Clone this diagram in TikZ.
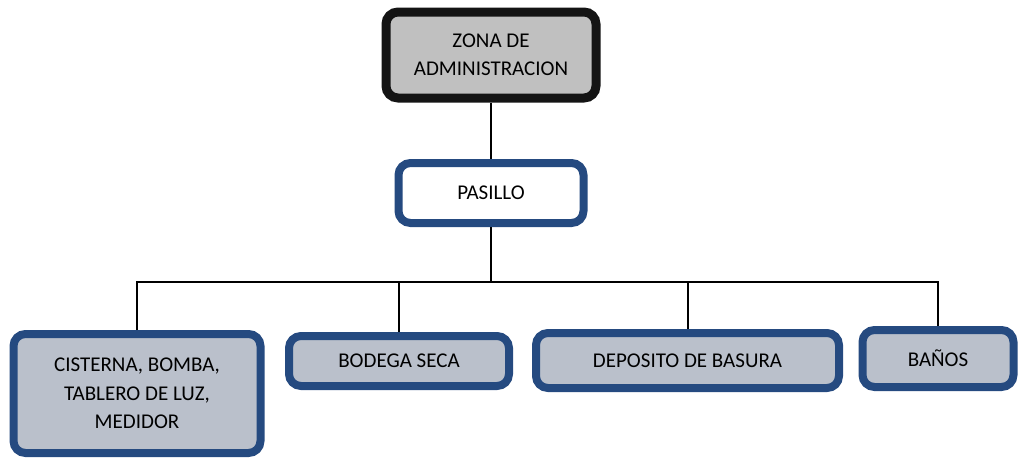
\documentclass[tikz,border=0pt]{standalone}
\usepackage{fontspec}
\setmainfont{Carlito}
\usetikzlibrary{shadows}

\definecolor{boxblue}{RGB}{37,74,128}
\definecolor{boxfill}{RGB}{186,192,203}
\definecolor{headfill}{RGB}{192,192,192}

\tikzset{
    area/.style={draw=boxblue, line width=8pt, rounded corners=12pt, fill=boxfill,
        align=center, inner sep=0pt, font=\fontsize{21}{28.5}\selectfont,
        drop shadow={shadow xshift=3pt, shadow yshift=-3pt, opacity=0.25}},
    conn/.style={line width=2pt, black}
}

\begin{document}
\begin{tikzpicture}[x=1pt, y=-1pt]
    % keep the whole page
    \useasboundingbox (0,0) rectangle (1021,461);

    % top level
    \node [area, draw=black!92, fill=headfill, line width=9pt, minimum width=210pt, minimum height=86pt]
        (admin) at (491,55) {ZONA DE\\ADMINISTRACION};
    % hall
    \node [area, fill=white, minimum width=185pt, minimum height=60pt]
        (pasillo) at (491,193) {PASILLO};
    % bottom row
    \node [area, minimum width=247pt, minimum height=119pt]
        (cisterna) at (137,393.5) {CISTERNA, BOMBA,\\TABLERO DE LUZ,\\MEDIDOR};
    \node [area, minimum width=220pt, minimum height=50pt]
        (bodega) at (399,361) {BODEGA SECA};
    \node [area, minimum width=303pt, minimum height=55pt]
        (deposito) at (687.5,360.5) {DEPOSITO DE BASURA};
    \node [area, minimum width=151pt, minimum height=57pt]
        (banos) at (938,358.5) {BAÑOS};

    % connectors
    \coordinate (bus) at (491,282);
    \draw [conn] (admin.south) -- (pasillo.north);
    \draw [conn] (pasillo.south) -- (bus);
    \draw [conn] (cisterna.north) |- (bus) -| (banos.north);
    \draw [conn] (bodega.north) -- (bodega.north |- bus);
    \draw [conn] (deposito.north) -- (deposito.north |- bus);
\end{tikzpicture}
\end{document}
